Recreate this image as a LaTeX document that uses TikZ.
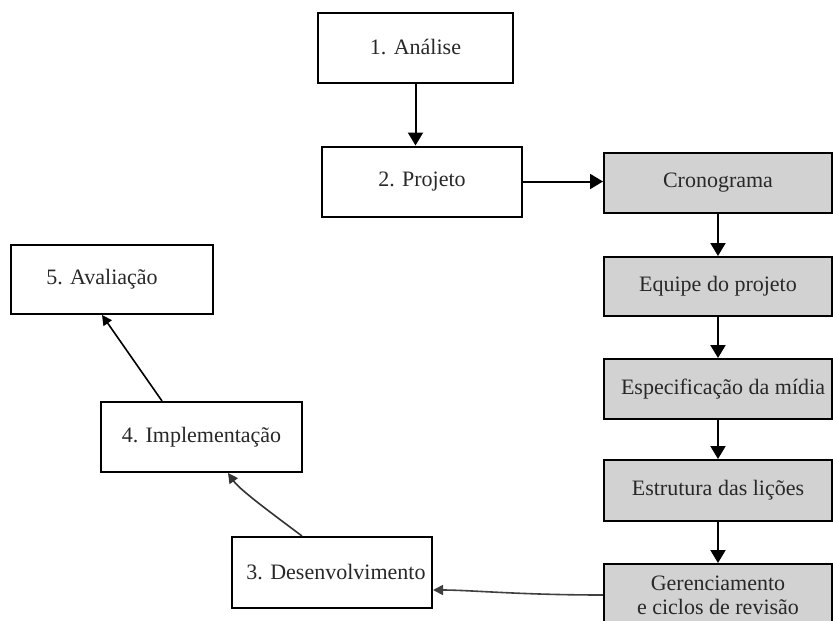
\documentclass[tikz,border=0pt]{standalone}
\usepackage{fontspec}
\setmainfont{Liberation Serif}
\usetikzlibrary{arrows.meta}
\definecolor{boxgray}{RGB}{210,210,210}
\definecolor{txt}{RGB}{40,40,40}
\begin{document}
\begin{tikzpicture}[x=1pt,y=-1pt,
  box/.style={draw=black,line width=2pt,fill=white,inner sep=0pt,align=center,
    text=txt,font=\fontsize{22}{26}\selectfont},
  gbox/.style={box,fill=boxgray,minimum width=228pt,minimum height=60pt},
  wbox/.style={box,minimum width=200pt,minimum height=70pt},
  bigarr/.style={line width=2pt,-{Triangle[length=13pt,width=15pt]}},
  smallarr/.style={line width=1.6pt,-{Triangle[length=10pt,width=10pt]}}]
\clip (0,0) rectangle (833,621);
\fill[white] (0,0) rectangle (833,621);
% white boxes
\node[wbox,minimum width=195pt] (an) at (415.5,47.5) {1. Análise};
\node[wbox] (pr) at (422,181.5) {2. Projeto};
\node[wbox,minimum width=202pt,minimum height=69pt] (av) at (112,279.5) {\hspace*{-20pt}5. Avaliação};
\node[wbox,minimum width=201pt] (im) at (201.5,437) {4. Implementação};
\node[wbox,minimum height=71pt] (de) at (332,572.5) {\hspace*{8pt}3. Desenvolvimento};
% grey boxes
\node[gbox] (cr) at (718,183) {Cronograma};
\node[gbox,minimum height=59pt] (eq) at (718,286.5) {Equipe do projeto};
\node[gbox] (es) at (718,389) {\hspace*{10pt}Especificação da mídia};
\node[gbox,minimum height=61pt] (et) at (718,490.5) {Estrutura das lições};
\node[gbox,minimum height=62pt] (ge) at (718,595) {Gerenciamento\\[-2pt] e ciclos de revisão};
% connectors
\draw[bigarr] (an.south) -- (an.south |- pr.north);
\draw[bigarr] (pr.east) -- (pr.east -| cr.west);
\draw[bigarr] (cr.south) -- (eq.north);
\draw[bigarr] (eq.south) -- (es.north);
\draw[bigarr] (es.south) -- (et.north);
\draw[bigarr] (et.south) -- (ge.north);
\draw[smallarr,draw=black!75] (ge.west) .. controls (520,595) and (470,590) .. ([yshift=-17.5pt]de.east);
\draw[smallarr,draw=black!80] ([xshift=-30pt]de.north) .. controls (270,512) and (240,490) .. ([xshift=26.5pt]im.south);
\draw[smallarr] ([xshift=-39.5pt]im.north) -- ([xshift=-10pt]av.south);
\end{tikzpicture}
\end{document}
